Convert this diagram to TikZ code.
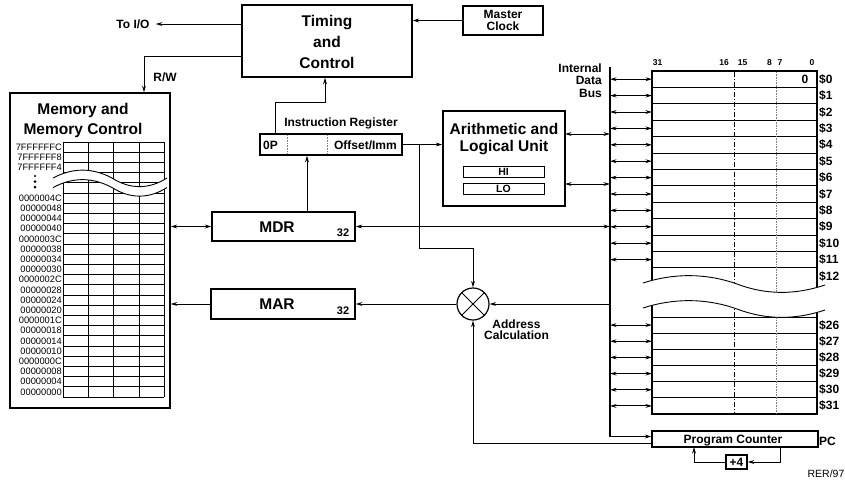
\documentclass[tikz,border=0pt]{standalone}
\usepackage{fontspec}
\setmainfont{Liberation Sans}
\usetikzlibrary{arrows.meta}
\begin{document}
\begin{tikzpicture}[x=1pt,y=-1pt,
  box/.style={draw, line width=1.4pt, inner sep=0pt},
  ibox/.style={draw, line width=0.9pt, inner sep=0pt},
  conn/.style={line width=0.9pt},
  arr/.style={conn, -{Stealth[length=6.5pt,width=3.8pt]}},
  darr/.style={conn, {Stealth[length=6.5pt,width=3.8pt]}-{Stealth[length=6.5pt,width=3.8pt]}},
  big/.style={inner sep=0pt, font={\fontsize{15.5}{21}\selectfont\bfseries}},
  med/.style={inner sep=0pt, font={\fontsize{12}{11.5}\selectfont\bfseries}},
  sml/.style={inner sep=0pt, font={\fontsize{10.5}{12}\selectfont\bfseries}},
  bitlbl/.style={inner sep=0pt, font={\fontsize{8.5}{10}\selectfont\bfseries}},
  addr/.style={inner sep=0pt, anchor=east, font={\fontsize{9.3}{10}\selectfont}},
  gridline/.style={line width=0.8pt},
]
\fill[white] (0,0) rectangle (845,480);
\useasboundingbox (0,0) rectangle (845,480);

% ---------- Timing and control, master clock
\node[box, minimum width=170pt, minimum height=72pt] (tc) at (327,41) {};
\node[big, align=center] (tct) at (327,42) {Timing\\and\\Control};
\node[box, minimum width=80pt, minimum height=29pt] (mc) at (503,20.5) {};
\node[med, align=center] (mct) at (503,20.5) {Master\\Clock};
\draw[arr] (mc.west) -- (mc.west -| tc.east);
\node[med] (toio) at (133,24.5) {To I/O};
\coordinate (tcio) at (242,24);
\draw[arr] (tcio) -- ([xshift=6pt]toio.east |- tcio);
\coordinate (rw) at (144,56);
\node[med] (rwt) at (165,77) {R/W};

% ---------- Memory
\node[box, minimum width=160pt, minimum height=315pt] (mem) at (90,250.5) {};
\draw[arr] (tc.west |- rw) -- (rw) -- (rw |- mem.north);
\node[big] (memt1) at (83,110) {Memory and};
\node[big] (memt2) at (83,130) {Memory Control};
% grid
\foreach \yy in {142,152,162,172,182} \draw[gridline] (63,\yy) -- (164,\yy);
\foreach \k in {0,...,20} \draw[gridline] (63,{193+10.2*\k}) -- (164,{193+10.2*\k});
\foreach \xx in {63,88,113,139,164} \draw[gridline] (\xx,142) -- (\xx,397);
% break
\fill[white] (53,178) .. controls (73,167.5) and (92,167.5) .. (112,178)
  .. controls (130,189.5) and (149,189.5) .. (167,178) -- (167,187.5)
  .. controls (149,199) and (130,199) .. (112,187.5)
  .. controls (92,177) and (73,177) .. (53,187.5) -- cycle;
\draw[line width=0.9pt] (53,178) .. controls (73,167.5) and (92,167.5) .. (112,178)
  .. controls (130,189.5) and (149,189.5) .. (167,178);
\draw[line width=0.9pt] (53,187.5) .. controls (73,177) and (92,177) .. (112,187.5)
  .. controls (130,199) and (149,199) .. (167,187.5);
\fill (35,176) circle (1.2pt) (35,181.5) circle (1.5pt) (35,187) circle (1.5pt);
\node[addr] (m1) at (62,147) {7FFFFFFC};
\node[addr] (m2) at (62,157) {7FFFFFF8};
\node[addr] (m3) at (62,167) {7FFFFFF4};
\foreach \a [count=\i from 0] in {4C,48,44,40,3C,38,34,30,2C,28,24,20,1C,18,14,10,0C,08,04,00}
  \node[addr] at (62,{198.1+10.2*\i}) {000000\a};

% ---------- Instruction register
\node[box, minimum width=142pt, minimum height=21pt] (ir) at (331,144.5) {};
\draw[densely dotted, gray, line width=0.6pt] (287,135) -- (287,154) (327,135) -- (327,154);
\node[med] (irt) at (341,123) {Instruction Register};
\node[med, anchor=west] (op) at (263,145) {0P};
\node[med, anchor=east] (off) at (397,145) {Offset/Imm};
\coordinate (irup) at (275,102);
\coordinate (tcin) at (325,102);
\draw[arr] (irup |- ir.north) -- (irup) -- (tcin) -- (tcin |- tc.south);

% ---------- ALU
\node[box, minimum width=122pt, minimum height=95pt] (alu) at (504,158.5) {};
\node[big, align=center, font={\fontsize{15.5}{17}\selectfont\bfseries}] (alut) at (504,139.5) {Arithmetic and\\Logical Unit};
\node[ibox, minimum width=81pt, minimum height=11.5pt, sml] (hi) at (503.5,171.8) {HI};
\node[ibox, minimum width=81pt, minimum height=11.5pt, sml] (lo) at (503.5,188.8) {LO};
\draw[arr] (ir.east) -- (ir.east -| alu.west);

% ---------- MDR / MAR
\node[box, minimum width=143pt, minimum height=29pt] (mdr) at (283.5,226.5) {};
\node[big] (mdrt) at (277,227) {MDR};
\node[sml, font={\fontsize{11}{12}\selectfont\bfseries}] (mdr32) at (343,233) {32};
\node[box, minimum width=144pt, minimum height=30pt] (mar) at (283,304) {};
\node[big] (mart) at (277,304) {MAR};
\node[sml, font={\fontsize{11}{12}\selectfont\bfseries}] (mar32) at (343,310.5) {32};
\coordinate (mdrir) at (307,183);
\draw[arr] (mdrir |- mdr.north) -- (mdrir |- ir.south);
\draw[darr] (mdr.west) -- (mdr.west -| mem.east);
\draw[arr] (mar.west) -- (mar.west -| mem.east);

% ---------- Address calculation
\node[draw, circle, line width=1.2pt, minimum size=32pt, inner sep=0pt] (ac) at (473,304) {};
\draw[line width=0.9pt] (ac.north west) -- (ac.south east) (ac.north east) -- (ac.south west);
\node[med, align=center] (act) at (516.5,329.5) {Address\\Calculation};
\coordinate (br) at (419,248);
\draw[arr] (br |- ir.east) -- (br) -| (ac.north);
\draw[arr] (ac.west) -- (ac.west -| mar.east);

% ---------- Bus
\coordinate (bustop) at (610,67);
\coordinate (busbot) at (610,436.5);
\draw[line width=2.4pt] (bustop) -- (busbot);
\node[med, align=right, anchor=east, font={\fontsize{12}{12.5}\selectfont\bfseries}] (idb) at (602,80.5) {Internal\\Data\\Bus};
\draw[darr] (mdr.east) -- (mdr.east -| bustop);
\coordinate (a1) at (565,134);
\coordinate (a2) at (565,184);
\draw[darr] (a1) -- (a1 -| bustop);
\draw[darr] (a2) -- (a2 -| bustop);
\draw[arr] (bustop |- ac.east) -- (ac.east);

% ---------- Register file
\node[box, minimum width=165pt, minimum height=343pt] (rf) at (734.5,242.5) {};
\foreach \k in {1,...,12} \draw[gridline] (652,{71+16.4*\k}) -- (817,{71+16.4*\k});
\foreach \k in {0,...,5} \draw[gridline] (652,{317+16.17*\k}) -- (817,{317+16.17*\k});
\draw[line width=0.8pt, dash pattern=on 5pt off 2pt on 1pt off 2pt] (734,72) -- (734,413);
\draw[line width=0.6pt, densely dotted, gray] (776,72) -- (776,413);
% break
\fill[white] (643,283) .. controls (674,273) and (706,273) .. (737,284)
  .. controls (766,295) and (795,295) .. (825,285) -- (825,310)
  .. controls (795,320) and (766,320) .. (737,309)
  .. controls (706,298) and (674,298) .. (643,308) -- cycle;
\draw[line width=0.9pt] (643,283) .. controls (674,273) and (706,273) .. (737,284)
  .. controls (766,295) and (795,295) .. (825,285);
\draw[line width=0.9pt] (643,308) .. controls (674,298) and (706,298) .. (737,309)
  .. controls (766,320) and (795,320) .. (825,310);
% labels
\foreach \k in {0,...,12} \node[med, anchor=west] at (819,{71+16.4*(\k+0.5)}) {\$\k};
\foreach \k [count=\j from 0] in {26,...,31} \node[med, anchor=west] at (819,{317+16.17*(\j+0.5)}) {\$\k};
\node[med] (zero) at (805,79) {0};
\node[bitlbl] (b31) at (657.5,63) {31};
\node[bitlbl] (b16) at (724,63) {16};
\node[bitlbl] (b15) at (742.5,63) {15};
\node[bitlbl] (b8) at (769.5,63) {8};
\node[bitlbl] (b7) at (780,63) {7};
\node[bitlbl] (b0) at (812,63) {0};
% arrows
\foreach \k in {0,...,11} \draw[darr] (610,{71+16.4*(\k+0.5)}) -- (652,{71+16.4*(\k+0.5)});
\foreach \j in {0,...,5} \draw[darr] (610,{317+16.17*(\j+0.5)}) -- (652,{317+16.17*(\j+0.5)});

% ---------- Program counter
\node[box, minimum width=166pt, minimum height=16pt] (pc) at (735,439) {};
\node[med] (pct) at (733,441) {Program Counter};
\node[med, anchor=west] (pcl) at (819,441) {PC};
\draw[arr] (busbot) -- (busbot -| pc.west);
\coordinate (pcout) at (652,443);
\draw[arr] (pcout) -| (ac.south);
\node[box, minimum width=21pt, minimum height=14pt, med] (p4) at (736.5,462) {+4};
\coordinate (pcr) at (780,447);
\coordinate (pcin) at (694,447);
\draw[arr] (pcr) |- (p4.east);
\draw[arr] (p4.west) -| (pcin);
\node[inner sep=0pt, font={\fontsize{10.5}{12}\selectfont}] (rer) at (826,474) {RER/97};
\end{tikzpicture}
\end{document}
